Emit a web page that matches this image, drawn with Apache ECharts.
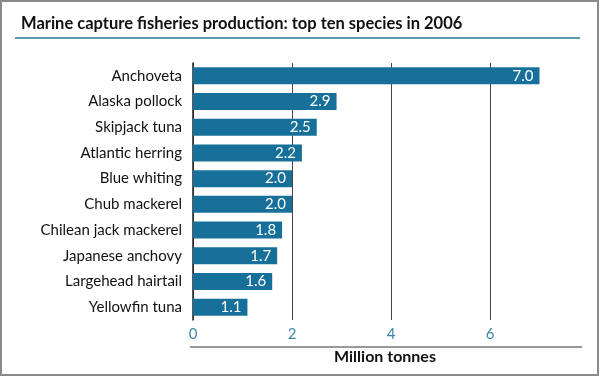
<!DOCTYPE html>
<html>
<head>
<meta charset="utf-8">
<script src="https://cdn.jsdelivr.net/npm/echarts@6/dist/echarts.min.js"></script>
<style>
  html, body { margin: 0; padding: 0; background: #fff; }
  #chart { width: 600px; height: 377px; }
</style>
</head>
<body>
<div id="chart"></div>
<script>
const species = [
  "Anchoveta",
  "Alaska pollock",
  "Skipjack tuna",
  "Atlantic herring",
  "Blue whiting",
  "Chub mackerel",
  "Chilean jack mackerel",
  "Japanese anchovy",
  "Largehead hairtail",
  "Yellowfin tuna",
];
const production = [7.0, 2.9, 2.5, 2.2, 2.0, 2.0, 1.8, 1.7, 1.6, 1.1];

const font = "Lato, 'Open Sans', sans-serif";

const myChart = echarts.init(document.getElementById("chart"));
const option = {
  animation: false,
  backgroundColor: "#fff",
  title: {
    text: "Marine capture fisheries production: top ten species in 2006",
    left: 16,
    top: 10,
    textStyle: {
      fontFamily: font,
      fontSize: 16.5,
      fontWeight: "bold",
      color: "#111",
    },
  },
  graphic: [
    {
      type: "rect",
      shape: { x: 1, y: 1, width: 597, height: 374 },
      style: { fill: null, stroke: "#8a8a8a", lineWidth: 2 },
      silent: true,
    },
    {
      type: "line",
      shape: { x1: 15, y1: 38, x2: 580, y2: 38 },
      style: { stroke: "#5b98a8", lineWidth: 2 },
      silent: true,
    },
    {
      type: "line",
      shape: { x1: 190, y1: 347, x2: 582, y2: 347 },
      style: { stroke: "#777", lineWidth: 1.5 },
      silent: true,
    },
  ],
  grid: {
    left: 193,
    right: 11,
    top: 63,
    bottom: 57,
  },
  xAxis: {
    type: "value",
    min: 0,
    max: 8,
    interval: 2,
    name: "Million tonnes",
    nameLocation: "middle",
    nameGap: 29,
    nameTextStyle: {
      fontFamily: font,
      fontSize: 16,
      fontWeight: "bold",
      color: "#111",
      padding: [0, 12, 0, 0],
    },
    axisLine: { show: false },
    axisTick: { show: false },
    axisLabel: {
      showMaxLabel: false,
      margin: 7,
      fontFamily: font,
      fontSize: 15,
      color: "#3f86aa",
    },
    splitLine: {
      show: true,
      showMaxLine: false,
      lineStyle: { color: "#444", width: 1 },
    },
  },
  yAxis: {
    type: "category",
    inverse: true,
    data: species,
    axisLine: { show: true, lineStyle: { color: "#222", width: 1.5 } },
    axisTick: { show: false },
    axisLabel: {
      margin: 11,
      fontFamily: font,
      fontSize: 15,
      color: "#111",
    },
  },
  series: [
    {
      type: "bar",
      data: production,
      barWidth: 17,
      itemStyle: { color: "#17709a" },
      label: {
        show: true,
        position: "insideRight",
        distance: 6,
        formatter: (p) => p.value.toFixed(1),
        fontFamily: font,
        fontSize: 15,
        color: "#fff",
      },
    },
  ],
};
myChart.setOption(option);
</script>
</body>
</html>
